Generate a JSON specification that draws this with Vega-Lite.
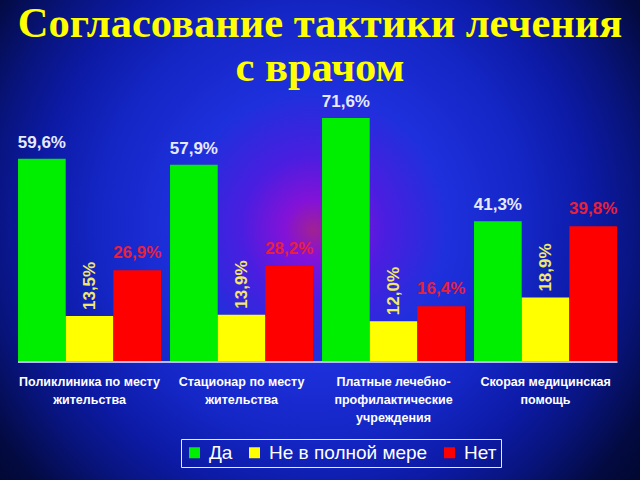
{
  "$schema": "https://vega.github.io/schema/vega-lite/v6.json",
  "width": 640,
  "height": 480,
  "autosize": {"type": "none"},
  "padding": 0,
  "background": "#000418",
  "title": {
    "text": ["Согласование тактики лечения", "с врачом"],
    "font": "Liberation Serif",
    "fontSize": 42.5,
    "fontWeight": "bold",
    "color": "#ffff00",
    "anchor": "middle",
    "baseline": "top",
    "lineHeight": 44,
    "offset": -89
  },
  "config": {
    "locale": {"number": {"decimal": ",", "thousands": " ", "grouping": [3], "currency": ["", "%"]}},
    "view": {
      "stroke": null,
      "fill": {
        "gradient": "radial",
        "x1": 0.49, "y1": 0.485, "x2": 0.49, "y2": 0.46,
        "r1": 0, "r2": 0.75,
        "stops": [
          {"offset": 0, "color": "#a02292"},
          {"offset": 0.06, "color": "#8412d8"},
          {"offset": 0.15, "color": "#4a1ee0"},
          {"offset": 0.28, "color": "#1e30dc"},
          {"offset": 0.45, "color": "#1426c4"},
          {"offset": 0.58, "color": "#0c1aa4"},
          {"offset": 0.68, "color": "#08147c"},
          {"offset": 0.8, "color": "#030a40"},
          {"offset": 1, "color": "#000418"}
        ]
      }
    }
  },
  "data": {
    "values": [
      {"category": "Поликлиника по месту|жительства", "series": "Да", "value": 59.6},
      {"category": "Поликлиника по месту|жительства", "series": "Не в полной мере", "value": 13.5},
      {"category": "Поликлиника по месту|жительства", "series": "Нет", "value": 26.9},
      {"category": "Стационар по месту|жительства", "series": "Да", "value": 57.9},
      {"category": "Стационар по месту|жительства", "series": "Не в полной мере", "value": 13.9},
      {"category": "Стационар по месту|жительства", "series": "Нет", "value": 28.2},
      {"category": "Платные лечебно-|профилактические|учреждения", "series": "Да", "value": 71.6},
      {"category": "Платные лечебно-|профилактические|учреждения", "series": "Не в полной мере", "value": 12.0},
      {"category": "Платные лечебно-|профилактические|учреждения", "series": "Нет", "value": 16.4},
      {"category": "Скорая медицинская|помощь", "series": "Да", "value": 41.3},
      {"category": "Скорая медицинская|помощь", "series": "Не в полной мере", "value": 18.9},
      {"category": "Скорая медицинская|помощь", "series": "Нет", "value": 39.8}
    ]
  },
  "encoding": {
    "x": {
      "field": "category",
      "type": "nominal",
      "sort": null,
      "scale": {"paddingInner": 0.059, "paddingOuter": 0.1348, "align": 0.44},
      "axis": {
        "title": null,
        "orient": "bottom",
        "offset": -118,
        "labelAngle": 0,
        "labelExpr": "split(datum.label, '|')",
        "labelFont": "Liberation Sans",
        "labelFontSize": 12.5,
        "labelFontWeight": "bold",
        "labelColor": "#ffffff",
        "labelLineHeight": 18,
        "labelBaseline": "top",
        "labelPadding": 13,
        "ticks": false,
        "domain": false,
        "grid": false
      }
    },
    "y": {
      "field": "value",
      "type": "quantitative",
      "scale": {"domain": [-34.6, 106.2], "nice": false, "zero": true},
      "axis": null
    }
  },
  "layer": [
    {
      "mark": {"type": "bar"},
      "encoding": {
        "xOffset": {"field": "series", "type": "nominal", "sort": ["Да", "Не в полной мере", "Нет"], "scale": {"paddingInner": 0, "paddingOuter": 0}},
        "color": {
          "field": "series",
          "type": "nominal",
          "sort": ["Да", "Не в полной мере", "Нет"],
          "scale": {"domain": ["Да", "Не в полной мере", "Нет"], "range": ["#00ee00", "#ffff00", "#ff0000"]},
          "legend": {
            "title": null,
            "orient": "none",
            "legendX": 181,
            "legendY": 439,
            "direction": "horizontal",
            "strokeColor": "#e8e8ff",
            "padding": 4,
            "labelColor": "#ffffff",
            "labelFont": "Liberation Sans",
            "labelFontSize": 19,
            "labelLimit": 400,
            "symbolType": "square",
            "symbolSize": 121,
            "symbolStrokeWidth": 0,
            "symbolOpacity": 1,
            "columnPadding": 12,
            "labelOffset": 5
          }
        }
      }
    },
    {
      "mark": {"type": "rule", "color": "#b8b8ff", "strokeWidth": 2},
      "encoding": {
        "x": {"datum": "Скорая медицинская|помощь", "type": "nominal", "bandPosition": 1},
        "x2": {"datum": "Поликлиника по месту|жительства"},
        "y": {"datum": 0, "type": "quantitative"}
      }
    },
    {
      "mark": {"type": "rule", "color": "#b8b8ff", "strokeWidth": 2},
      "encoding": {
        "x": {"datum": "Поликлиника по месту|жительства", "type": "nominal", "bandPosition": 0},
        "x2": {"datum": "Скорая медицинская|помощь"},
        "y": {"datum": 0, "type": "quantitative"}
      }
    },
    {
      "transform": [{"filter": "datum.series === 'Да'"}],
      "mark": {"type": "text", "baseline": "bottom", "dy": -7, "font": "Liberation Sans", "fontSize": 17, "fontWeight": "bold", "color": "#e6eaff"},
      "encoding": {
        "xOffset": {"field": "series", "type": "nominal", "sort": ["Да", "Не в полной мере", "Нет"], "scale": {"paddingInner": 0, "paddingOuter": 0}},
        "text": {"field": "value", "type": "quantitative", "format": "$.1f"}
      }
    },
    {
      "transform": [{"filter": "datum.series === 'Не в полной мере'"}],
      "mark": {"type": "text", "angle": 270, "align": "left", "baseline": "middle", "dx": 6, "font": "Liberation Sans", "fontSize": 17, "fontWeight": "bold", "color": "#f2e86a"},
      "encoding": {
        "xOffset": {"field": "series", "type": "nominal", "sort": ["Да", "Не в полной мере", "Нет"], "scale": {"paddingInner": 0, "paddingOuter": 0}},
        "text": {"field": "value", "type": "quantitative", "format": "$.1f"}
      }
    },
    {
      "transform": [{"filter": "datum.series === 'Нет'"}],
      "mark": {"type": "text", "baseline": "bottom", "dy": -8, "font": "Liberation Sans", "fontSize": 17, "fontWeight": "bold", "color": "#e8203c"},
      "encoding": {
        "xOffset": {"field": "series", "type": "nominal", "sort": ["Да", "Не в полной мере", "Нет"], "scale": {"paddingInner": 0, "paddingOuter": 0}},
        "text": {"field": "value", "type": "quantitative", "format": "$.1f"}
      }
    }
  ]
}
